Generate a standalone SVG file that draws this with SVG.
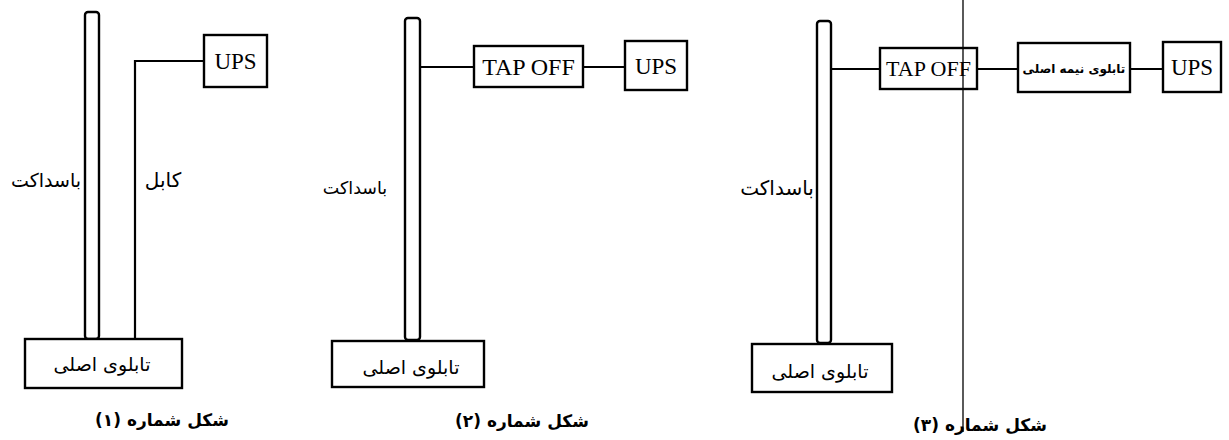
<svg xmlns="http://www.w3.org/2000/svg" width="1229" height="440" viewBox="0 0 1229 440">
<style>
.box{fill:#fff;stroke:#000;stroke-width:2.4}
.bus{fill:#fff;stroke:#000;stroke-width:2.4}
.wire{fill:none;stroke:#000;stroke-width:2.2}
.fa{font-family:"DejaVu Sans",sans-serif;fill:#000;text-anchor:middle}
.lat{font-family:"Liberation Serif",serif;fill:#000;text-anchor:middle}
.cap{font-family:"DejaVu Sans",sans-serif;font-weight:bold;font-size:17px;fill:#000;text-anchor:middle}
</style>
<rect width="1229" height="440" fill="#fff"/>
<g id="connectors">
<path class="wire" d="M135 339 V61 H204"/>
<path class="wire" d="M420 67 H474"/>
<path class="wire" d="M583 67 H625"/>
<path class="wire" d="M831 69 H880"/>
<path class="wire" d="M977 69 H1018"/>
<path class="wire" d="M1130 69 H1163"/>
</g>
<g id="fig1">
<g id="busduct1"><rect class="bus" x="85" y="12" width="14" height="327" rx="3"/><text class="fa" x="46" y="187" font-size="19" direction="rtl">باسداکت</text></g>
<g id="cable1label"><text class="fa" x="163" y="187" font-size="20" direction="rtl">کابل</text></g>
<g id="ups1"><rect class="box" x="204" y="35" width="63" height="52"/><text class="lat" x="235.5" y="69" font-size="23">UPS</text></g>
<g id="panel1"><rect class="box" x="25" y="339" width="157" height="49"/><text class="fa" x="102" y="371" font-size="19" direction="rtl">تابلوی اصلی</text></g>
<g id="caption1"><text class="cap" x="162" y="426" direction="rtl">شکل شماره (۱)</text></g>
</g>
<g id="fig2">
<g id="busduct2"><rect class="bus" x="405" y="18" width="15" height="322" rx="3"/><text class="fa" x="355" y="194" font-size="17.5" direction="rtl">باسداکت</text></g>
<g id="tapoff2"><rect class="box" x="474" y="46" width="109" height="41"/><text class="lat" x="528.5" y="75" font-size="24">TAP OFF</text></g>
<g id="ups2"><rect class="box" x="625" y="41" width="62" height="49"/><text class="lat" x="656" y="74" font-size="23">UPS</text></g>
<g id="panel2"><rect class="box" x="332" y="341" width="152" height="46"/><text class="fa" x="411" y="374" font-size="19" direction="rtl">تابلوی اصلی</text></g>
<g id="caption2"><text class="cap" x="522" y="427" direction="rtl">شکل شماره (۲)</text></g>
</g>
<g id="fig3">
<g id="busduct3"><rect class="bus" x="817" y="21" width="14" height="322" rx="3"/><text class="fa" x="777" y="195" font-size="20" direction="rtl">باسداکت</text></g>
<g id="tapoff3"><rect class="box" x="880" y="48" width="97" height="41"/><text class="lat" x="928.5" y="76" font-size="22">TAP OFF</text></g>
<g id="halfpanel3"><rect class="box" x="1018" y="43" width="112" height="49"/><text class="fa" x="1074" y="73" font-size="12" font-weight="bold" direction="rtl">تابلوی نیمه اصلی</text></g>
<g id="ups3"><rect class="box" x="1163" y="42" width="58" height="50"/><text class="lat" x="1192" y="75" font-size="23">UPS</text></g>
<g id="panel3"><rect class="box" x="752" y="344" width="140" height="48"/><text class="fa" x="820" y="378" font-size="19" direction="rtl">تابلوی اصلی</text></g>
<g id="caption3"><text class="cap" x="980" y="431" font-size="18" direction="rtl">شکل شماره (۳)</text></g>
<line x1="963" y1="0" x2="963" y2="432" stroke="#000" stroke-width="1.3"/>
</g>
</svg>
